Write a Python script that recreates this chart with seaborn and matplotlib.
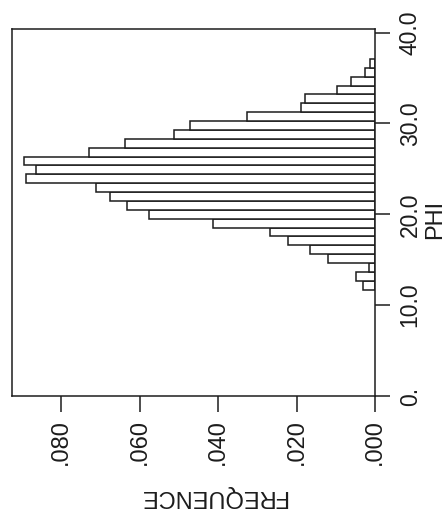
import numpy as np
import pandas as pd
import matplotlib
matplotlib.use("Agg")
import matplotlib.pyplot as plt
import seaborn as sns

# Relative frequency of each PHI class, lowest class first
freq = [0.0032, 0.0049, 0.0015, 0.0120, 0.0166, 0.0222, 0.0267, 0.0412,
        0.0577, 0.0633, 0.0675, 0.0711, 0.0889, 0.0864, 0.0895, 0.0728,
        0.0636, 0.0513, 0.0472, 0.0327, 0.0190, 0.0178, 0.0098, 0.0061,
        0.0026, 0.0013]
phi_first_edge = 11.7
phi_last_edge = 37.1

freq_ticks = [0.0, 0.02, 0.04, 0.06, 0.08]
freq_labels = [".000", ".020", ".040", ".060", ".080"]
phi_ticks = [0, 10, 20, 30, 40]
phi_labels = ["0.", "10.0", "20.0", "30.0", "40.0"]

edges = np.linspace(phi_first_edge, phi_last_edge, len(freq) + 1)
centers = (edges[:-1] + edges[1:]) / 2
df = pd.DataFrame({"PHI": centers, "FREQUENCE": freq})

sns.set_style("white")
plt.rcParams["font.family"] = ["Liberation Sans", "DejaVu Sans"]
ink = "#1c1c1c"

fig, ax = plt.subplots(figsize=(4.46, 5.09), dpi=100)
fig.subplots_adjust(left=0.027, right=0.841, bottom=0.222, top=0.943)

sns.histplot(data=df, y="PHI", weights="FREQUENCE", bins=edges.tolist(),
             stat="count", fill=True, color="white", alpha=1,
             edgecolor=ink, linewidth=1.1, ax=ax)

# frequency grows to the left, PHI axis sits on the right
ax.set_xlim(0.0925, 0)
ax.set_ylim(0, 40.4)
ax.yaxis.tick_right()
ax.yaxis.set_label_position("right")

ax.set_xticks(freq_ticks)
ax.set_xticklabels(freq_labels)
ax.set_yticks(phi_ticks)
ax.set_yticklabels(phi_labels)

for side in ["left", "right", "top", "bottom"]:
    ax.spines[side].set_visible(True)
    ax.spines[side].set_color(ink)
    ax.spines[side].set_linewidth(1.1)

ax.tick_params(axis="x", bottom=True, direction="out", length=11.5, width=1.1,
               pad=5, labelsize=17, labelrotation=90, colors=ink)
ax.tick_params(axis="y", right=True, left=False, direction="out", length=11,
               width=1.1, pad=6, labelsize=16.5, labelrotation=90, colors=ink)
for t in ax.get_yticklabels():
    t.set_va("center")

ax.set_xlabel("FREQUENCE", fontsize=17, rotation=180, color=ink,
              ha="center", va="center")
ax.xaxis.set_label_coords(0.555, -0.272)
ax.set_ylabel("PHI", fontsize=17, rotation=90, color=ink,
              ha="center", va="center")
ax.yaxis.set_label_coords(1.165, 0.48)

fig.savefig("out.png", dpi=100)
